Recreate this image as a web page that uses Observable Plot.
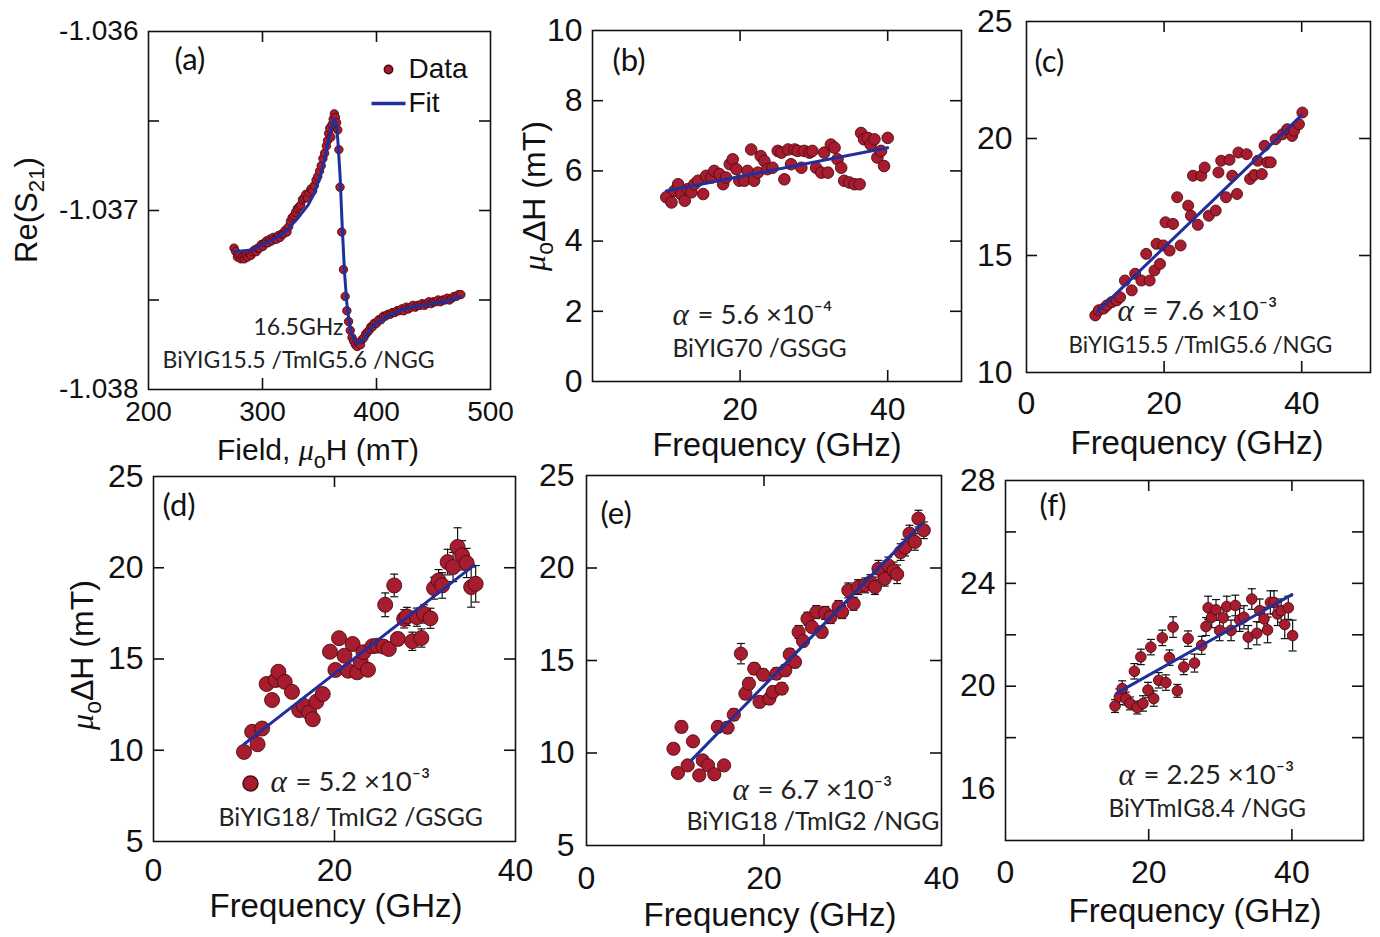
<!DOCTYPE html>
<html><head><meta charset="utf-8">
<script src="https://cdn.jsdelivr.net/npm/d3@7"></script>
<script src="https://cdn.jsdelivr.net/npm/@observablehq/plot@0.6"></script>
<style>
body{margin:0;background:#fff;}
#fig{position:relative;width:1380px;height:937px;overflow:hidden;background:#fff;}
.lab{position:absolute;white-space:nowrap;line-height:1;color:#111;font-family:"Liberation Sans",Arial,sans-serif;}
.lab sub{font-size:0.72em;vertical-align:-0.35em;line-height:0;}
.lab i{font-family:"Liberation Serif",serif;}
</style></head><body><div id="fig"></div><script>
// ---------- data ----------
// (a) Re(S21) vs field at 16.5 GHz
const aField = [275,276.5,278,279.5,281,282.5,284,285.5,287,288.5,290,291.5,293,294.5,296,297.5,299,300.5,302,303.5,305,306.5,308,309.5,311,312.5,314,315.5,317,318.5,320,321.5,323,324.5,326,327.5,329,330.5,332,333.5,335,336.5,338,339.5,341,342.5,344,345.5,347,348.5,350,351.5,353,354.5,356,357,358,359,360,361,362,363,364,365,366,367,368,369.5,371,372.5,374,375.5,377,378.5,380,381.5,383,384.5,386,387.5,389,390.5,392,393.5,395,396.5,398,400,402,404,406,408,410,412,414,416,418,420,422,424,426,428,430,432,434,436,438,440,442,444,446,448,450,452,454,456,458,460,462,464,466,468,470,472,474];
const aS21 = [-1.03721,-1.03723,-1.03726,-1.03725,-1.03727,-1.03726,-1.03727,-1.03725,-1.03726,-1.03724,-1.03725,-1.03723,-1.03722,-1.03723,-1.03721,-1.03721,-1.03719,-1.0372,-1.03718,-1.03717,-1.03718,-1.03716,-1.03717,-1.03715,-1.03716,-1.03716,-1.03714,-1.03715,-1.03713,-1.03713,-1.03711,-1.03712,-1.03709,-1.03706,-1.03704,-1.03703,-1.03701,-1.03699,-1.03698,-1.03697,-1.03694,-1.03693,-1.03691,-1.03693,-1.0369,-1.03688,-1.03689,-1.03686,-1.03683,-1.03681,-1.03678,-1.03675,-1.03671,-1.03668,-1.03664,-1.03661,-1.03657,-1.03654,-1.03659,-1.03652,-1.03649,-1.03646,-1.03648,-1.03651,-1.03655,-1.03666,-1.03687,-1.03712,-1.03733,-1.03748,-1.03756,-1.03762,-1.03767,-1.03771,-1.03773,-1.03775,-1.03776,-1.03774,-1.03775,-1.03772,-1.03771,-1.03769,-1.03768,-1.03767,-1.03765,-1.03765,-1.03763,-1.03763,-1.03761,-1.03761,-1.03759,-1.03759,-1.03758,-1.03758,-1.03757,-1.03757,-1.03756,-1.03756,-1.03755,-1.03756,-1.03754,-1.03755,-1.03754,-1.03753,-1.03754,-1.03753,-1.03753,-1.03752,-1.03753,-1.03752,-1.03751,-1.03752,-1.03751,-1.03751,-1.0375,-1.03751,-1.0375,-1.0375,-1.03749,-1.0375,-1.03749,-1.03748,-1.03748,-1.03747,-1.03747];
const aFitField = [275,290,300,310,320,330,340,345,350,355,358,361,363,364.5,366,368,370,372,374,376,378,380,383,386,390,395,400,410,420,430,440,450,460,474];
const aFitS21 = [-1.03723,-1.03722,-1.03719,-1.03716,-1.03712,-1.03705,-1.03697,-1.03691,-1.03682,-1.0367,-1.0366,-1.03652,-1.03649,-1.03651,-1.0366,-1.0368,-1.0371,-1.03735,-1.03752,-1.03762,-1.03768,-1.03772,-1.03774,-1.03774,-1.03771,-1.03766,-1.03763,-1.03759,-1.03756,-1.03754,-1.03753,-1.03752,-1.03751,-1.03748];

// (b) BiYIG70 / GSGG
const bFreq = [10.0,10.7,11.1,11.6,12.0,12.5,12.9,13.4,13.8,14.3,15.0,15.4,16.1,16.5,17.2,17.7,18.1,18.6,19.0,19.5,19.9,20.6,21.0,21.5,21.9,22.4,22.8,23.3,23.7,24.4,25.1,25.6,26.0,26.5,26.9,27.4,27.8,28.3,28.7,29.4,29.8,30.3,31.0,31.4,31.9,32.3,32.8,33.2,33.7,34.1,34.8,35.5,36.2,36.4,36.8,37.3,37.7,38.2,38.6,39.1,39.5,40.0];
const bWidth = [5.25,5.10,5.43,5.62,5.34,5.15,5.48,5.39,5.62,5.72,5.34,5.86,5.81,6.00,5.91,5.62,5.81,6.19,6.33,6.05,5.72,5.72,6.00,6.61,5.72,5.95,6.42,6.28,6.05,6.09,6.57,6.52,5.76,6.61,6.19,6.61,6.57,6.09,6.57,6.52,6.57,6.09,5.95,6.52,5.95,6.75,6.66,6.33,6.09,5.72,5.67,5.62,5.62,7.08,6.90,6.94,6.75,6.90,6.38,6.57,6.14,6.94];
const bFitFreq = [10, 40];
const bFitWidth = [5.43, 6.66];

// (c) BiYIG15.5 / TmIG5.6 / NGG
const cFreq = [10.0,10.5,11.2,11.7,12.4,13.1,13.6,14.3,15.3,15.8,16.7,17.4,17.9,18.6,19.4,18.9,19.9,20.8,22.4,20.2,21.3,21.9,23.5,23.9,24.9,26.5,27.5,24.2,25.4,25.9,27.9,28.3,29.5,29.0,29.9,30.6,30.8,32.0,32.5,33.1,33.6,34.2,34.6,35.0,35.5,36.2,37.2,37.9,38.6,38.9,39.6,40.1];
const cWidth = [12.44,12.66,12.73,12.87,13.01,13.08,13.22,13.93,13.51,14.22,13.93,15.07,13.93,14.36,14.64,15.50,15.43,15.21,15.43,16.42,16.35,17.49,17.13,16.70,16.31,16.70,16.92,18.41,18.41,18.76,18.55,19.05,19.09,17.49,18.41,17.63,19.40,19.33,18.27,18.44,19.05,18.48,19.69,18.98,18.98,19.97,20.18,20.40,20.11,20.33,20.61,21.11];
const cFitFreq = [10.3, 40];
const cFitWidth = [12.6, 21.0];

// (d) BiYIG18 / TmIG2 / GSGG
const dFreq = [10.0,10.9,11.5,12.0,12.5,13.1,13.5,13.8,14.5,15.3,16.1,16.6,17.2,17.6,18.0,18.7,19.5,20.1,20.5,21.1,21.5,22.0,22.5,22.9,23.2,23.7,24.2,24.7,25.4,25.6,26.0,26.6,27.0,27.7,28.0,28.6,29.1,29.6,29.9,30.6,31.0,31.5,31.9,32.5,33.1,33.6,34.1,34.6,35.1,35.6];
const dWidth = [9.91,11.01,10.33,11.19,13.63,12.75,13.85,14.30,13.75,13.20,12.20,12.44,12.07,11.70,12.66,13.08,15.40,14.40,16.14,15.18,14.36,15.82,14.27,14.82,15.37,14.41,15.70,15.73,15.68,17.97,15.55,19.03,16.10,17.20,17.33,15.97,17.29,16.15,17.47,17.23,18.88,19.30,19.03,20.31,20.04,21.14,20.68,20.26,18.94,19.12];
const dErr = [0.2,0.25,0.2,0.25,0.2,0.2,0.2,0.2,0.2,0.2,0.2,0.2,0.2,0.2,0.2,0.25,0.3,0.25,0.3,0.3,0.25,0.3,0.25,0.3,0.3,0.3,0.3,0.3,0.3,0.65,0.3,0.62,0.35,0.5,0.5,0.5,0.5,0.5,0.5,0.55,0.6,0.6,0.7,0.7,0.8,1.05,0.8,0.8,1.1,1.0];
const dFitFreq = [10, 35.4];
const dFitWidth = [10.33, 20.13];

// (e) BiYIG18 / TmIG2 / NGG
const eFreq = [9.8,10.3,10.7,11.4,12.0,12.7,13.1,13.7,14.4,14.8,15.5,15.9,16.6,17.4,17.9,18.3,18.9,19.5,19.9,20.6,21.0,21.4,22.0,22.4,22.9,23.5,23.9,24.4,24.9,25.4,25.9,26.5,26.9,27.5,28.4,28.8,29.5,30.1,30.6,31.4,32.0,32.5,32.9,33.6,34.0,34.6,35.0,35.4,35.9,36.4,37.0,37.4,38.0];
const eWidth = [10.23,8.92,11.41,9.33,10.63,8.79,9.60,9.33,8.85,11.41,9.33,11.37,12.07,15.37,13.21,13.75,14.56,12.76,14.23,12.94,13.30,14.29,13.48,14.47,15.33,14.92,16.54,16.05,17.26,16.81,17.62,16.54,17.57,17.35,17.89,17.62,18.79,18.07,18.97,19.06,19.24,18.97,19.96,19.42,20.14,19.87,19.66,20.86,21.10,21.86,21.41,22.67,22.04];
const eErr = [0.25,0.25,0.3,0.25,0.25,0.25,0.25,0.25,0.25,0.3,0.25,0.3,0.3,0.55,0.3,0.3,0.3,0.3,0.3,0.3,0.3,0.3,0.3,0.3,0.3,0.3,0.35,0.3,0.35,0.3,0.35,0.3,0.35,0.35,0.35,0.35,0.4,0.35,0.4,0.4,0.4,0.4,0.45,0.4,0.45,0.45,0.5,0.45,0.45,0.45,0.45,0.45,0.45];
const eFitFreq = [11.8, 37.8];
const eFitWidth = [9.6, 22.4];

// (f) BiYTmIG8.4 / NGG
const fFreq = [15.3,15.9,16.3,16.8,17.4,18.0,18.4,18.9,19.2,19.9,20.3,20.7,21.4,21.9,22.4,22.9,23.4,24.0,24.9,25.5,26.4,27.4,28.0,28.3,28.8,29.4,29.9,30.4,30.9,31.5,32.1,32.7,33.3,33.9,34.4,35.1,35.5,36.1,36.6,37.0,37.5,38.0,38.5,39.0,39.5,40.1];
const fWidth = [19.23,19.59,19.91,19.52,19.33,20.58,19.17,21.14,19.33,19.85,21.52,19.52,20.23,21.88,20.14,21.11,22.30,19.82,20.75,21.85,20.90,21.59,22.32,23.05,22.68,22.97,22.17,22.66,23.10,22.17,23.14,22.58,22.68,21.91,23.39,22.06,22.94,22.62,22.19,23.26,23.26,22.81,22.94,22.40,23.05,21.97];
const fErr = [0.25,0.3,0.3,0.25,0.25,0.3,0.25,0.3,0.3,0.3,0.3,0.3,0.3,0.3,0.3,0.3,0.4,0.25,0.3,0.3,0.35,0.35,0.35,0.45,0.4,0.4,0.4,0.4,0.4,0.4,0.4,0.45,0.45,0.45,0.4,0.45,0.45,0.45,0.5,0.45,0.45,0.45,0.45,0.55,0.45,0.6];
const fFitFreq = [15.6, 40];
const fFitWidth = [19.74, 23.56];

// tick values / labels
const aXLabels = [200,300,400,500], aYLabels = [-1.036,-1.037,-1.038];
const aXTicks = [300,400], aYTicks = [-1.0365,-1.037,-1.0375];

// ---------- styling ----------
const fig = document.getElementById("fig");
const M = {l: 140, r: 40, t: 40, b: 70};
const DOT_FILL = "#a81c2f", DOT_STROKE = "#4e0a12", FIT = "#1f2f9c";
const SANS = "Liberation Sans, Arial, sans-serif";
const NOTE = "Lato, 'Open Sans', sans-serif";
const hline = {draw(ctx, size) { const w = Math.sqrt(size / Math.PI); ctx.moveTo(-w, 0); ctx.lineTo(w, 0); }};
const rows = (xs, ys, es) => xs.map((x, i) => ({x, y: ys[i], e: es ? es[i] : 0}));

function panel(cfg) {
  const W = cfg.R - cfg.L, H = cfg.B - cfg.T, tk = 11;
  const at = (x, y) => ({frameAnchor: "top-left", dx: x - cfg.L, dy: y - cfg.T});
  const marks = [
    Plot.frame({stroke: "#111", strokeWidth: 1.6}),
    Plot.axisX(cfg.xLabels, {tickSize: 0, tickPadding: cfg.padX, label: null, fontSize: cfg.fs, tickFormat: cfg.xFmt || (d => String(d)), fill: "#111"}),
    Plot.axisY(cfg.yLabels, {tickSize: 0, tickPadding: cfg.padY, label: null, fontSize: cfg.fs, tickFormat: cfg.yFmt || (d => String(d)), fill: "#111"}),
    Plot.tickX(cfg.xTicks, {x: d => d, insetTop: H - tk, stroke: "#111", strokeWidth: 1.6}),
    Plot.tickX(cfg.xTicks, {x: d => d, insetBottom: H - tk, stroke: "#111", strokeWidth: 1.6}),
    Plot.tickY(cfg.yTicks, {y: d => d, insetRight: W - tk, stroke: "#111", strokeWidth: 1.6}),
    Plot.tickY(cfg.yTicks, {y: d => d, insetLeft: W - tk, stroke: "#111", strokeWidth: 1.6})
  ];
  if (cfg.err) {
    marks.push(
      Plot.ruleX(cfg.data, {x: "x", y1: d => d.y - d.e, y2: d => d.y + d.e, stroke: "#111", strokeWidth: 1.2}),
      Plot.dot(cfg.data, {x: "x", y: d => d.y + d.e, symbol: hline, r: cfg.cap, fill: "none", stroke: "#111", strokeWidth: 1.2}),
      Plot.dot(cfg.data, {x: "x", y: d => d.y - d.e, symbol: hline, r: cfg.cap, fill: "none", stroke: "#111", strokeWidth: 1.2})
    );
  }
  marks.push(
    Plot.dot(cfg.data, {x: "x", y: "y", r: cfg.r, fill: DOT_FILL, stroke: DOT_STROKE, strokeWidth: 0.9}),
    Plot.line(cfg.fit, {x: "x", y: "y", stroke: FIT, strokeWidth: 3, curve: "linear"}),
    Plot.text([cfg.tag], {text: d => d, ...at(cfg.tagPos[0], cfg.tagPos[1]), textAnchor: "start", lineAnchor: "middle", fontFamily: NOTE, fontSize: 31, fill: "#111"})
  );
  if (cfg.alpha) {
    const [ax, ay, rest] = cfg.alpha;
    marks.push(
      Plot.text(["α"], {text: d => d, ...at(ax, ay), textAnchor: "start", lineAnchor: "middle", fontFamily: "Liberation Serif, serif", fontStyle: "italic", fontSize: 31, fill: "#222"}),
      Plot.text([rest], {text: d => d, ...at(ax + 25, ay), textAnchor: "start", lineAnchor: "middle", fontFamily: NOTE, fontSize: 27.5, fill: "#222"})
    );
  }
  for (const n of cfg.notes || []) {
    marks.push(Plot.text([n[0]], {text: d => d, ...at(n[1], n[2]), textAnchor: "start", lineAnchor: "middle", fontFamily: n[4] || NOTE, fontSize: n[3], fill: "#222"}));
  }
  if (cfg.extra) marks.push(...cfg.extra(at));
  const svg = Plot.plot({
    width: W + M.l + M.r, height: H + M.t + M.b,
    marginLeft: M.l, marginRight: M.r, marginTop: M.t, marginBottom: M.b,
    x: {domain: cfg.xDomain, label: null},
    y: {domain: cfg.yDomain, label: null},
    style: {background: "transparent", overflow: "visible", fontFamily: SANS, fontSize: cfg.fs + "px", color: "#111"},
    marks
  });
  svg.style.position = "absolute";
  svg.style.left = (cfg.L - M.l) + "px";
  svg.style.top = (cfg.T - M.t) + "px";
  fig.appendChild(svg);
}

function label(html, x, y, size, rot) {
  const d = document.createElement("div");
  d.className = "lab";
  d.innerHTML = html;
  d.style.left = x + "px"; d.style.top = y + "px"; d.style.fontSize = size + "px";
  d.style.transform = "translate(-50%,-50%)" + (rot ? " rotate(-90deg)" : "");
  fig.appendChild(d);
}

// (a)
panel({
  L: 148, T: 31, R: 490, B: 389, xDomain: [200, 500], yDomain: [-1.038, -1.036],
  xLabels: aXLabels, yLabels: aYLabels, xTicks: aXTicks, yTicks: aYTicks,
  yFmt: d => d.toFixed(3), fs: 28, padX: 12, padY: 10,
  data: rows(aField, aS21), fit: rows(aFitField, aFitS21), r: 4.2,
  tag: "(a)", tagPos: [174, 60],
  notes: [["16.5GHz", 253, 327, 23], ["BiYIG15.5 /TmIG5.6 /NGG", 162, 360, 23]],
  extra: at => [
    Plot.dot([0], {...at(388, 69), r: 4.2, fill: DOT_FILL, stroke: DOT_STROKE}),
    Plot.text(["Data"], {text: d => d, ...at(408, 69), textAnchor: "start", lineAnchor: "middle", fontFamily: SANS, fontSize: 28, fill: "#111"}),
    Plot.dot([0], {...at(388, 103), symbol: hline, r: 17, fill: "none", stroke: FIT, strokeWidth: 3.5}),
    Plot.text(["Fit"], {text: d => d, ...at(408, 103), textAnchor: "start", lineAnchor: "middle", fontFamily: SANS, fontSize: 28, fill: "#111"})
  ]
});
// (b)
panel({
  L: 592, T: 30, R: 961, B: 381, xDomain: [0, 50], yDomain: [0, 10],
  xLabels: [20, 40], yLabels: [0, 2, 4, 6, 8, 10], xTicks: [20, 40], yTicks: [2, 4, 6, 8],
  fs: 32, padX: 16, padY: 10,
  data: rows(bFreq, bWidth), fit: rows(bFitFreq, bFitWidth), r: 5.8,
  tag: "(b)", tagPos: [612, 61],
  alpha: [672, 315, "= 5.6 ×10⁻⁴"],
  notes: [["BiYIG70 /GSGG", 672, 349, 24.5]]
});
// (c)
panel({
  L: 1026, T: 21, R: 1370, B: 372, xDomain: [0, 50], yDomain: [10, 25],
  xLabels: [0, 20, 40], yLabels: [10, 15, 20, 25], xTicks: [20, 40], yTicks: [15, 20],
  fs: 32, padX: 19, padY: 14,
  data: rows(cFreq, cWidth), fit: rows(cFitFreq, cFitWidth), r: 5.5,
  tag: "(c)", tagPos: [1034, 62],
  alpha: [1117, 311, "= 7.6 ×10⁻³"],
  notes: [["BiYIG15.5 /TmIG5.6 /NGG", 1068, 345, 22.3]]
});
// (d)
panel({
  L: 153, T: 476, R: 515, B: 841, xDomain: [0, 40], yDomain: [5, 25],
  xLabels: [0, 20, 40], yLabels: [5, 10, 15, 20, 25], xTicks: [20], yTicks: [10, 15, 20],
  fs: 32, padX: 17, padY: 10,
  data: rows(dFreq, dWidth, dErr), err: true, cap: 4, fit: rows(dFitFreq, dFitWidth), r: 7.5,
  tag: "(d)", tagPos: [162, 506],
  alpha: [270, 782, "= 5.2 ×10⁻³"],
  notes: [["BiYIG18/ TmIG2 /GSGG", 218, 818, 24.8]],
  extra: at => [Plot.dot([0], {...at(250, 783), r: 7.5, fill: DOT_FILL, stroke: DOT_STROKE})]
});
// (e)
panel({
  L: 586, T: 475, R: 941, B: 845, xDomain: [0, 40], yDomain: [5, 25],
  xLabels: [0, 20, 40], yLabels: [5, 10, 15, 20, 25], xTicks: [20], yTicks: [10, 15, 20],
  fs: 32, padX: 21, padY: 12,
  data: rows(eFreq, eWidth, eErr), err: true, cap: 4, fit: rows(eFitFreq, eFitWidth), r: 6.6,
  tag: "(e)", tagPos: [600, 514],
  alpha: [732, 790, "= 6.7 ×10⁻³"],
  notes: [["BiYIG18 /TmIG2 /NGG", 686, 822, 24.8]]
});
// (f)
panel({
  L: 1005, T: 480, R: 1363, B: 840, xDomain: [0, 50], yDomain: [14, 28],
  xLabels: [0, 20, 40], yLabels: [16, 20, 24, 28], xTicks: [20, 40], yTicks: [18, 20, 22, 24, 26],
  fs: 32, padX: 20, padY: 10,
  data: rows(fFreq, fWidth, fErr), err: true, cap: 4, fit: rows(fFitFreq, fFitWidth), r: 5.3,
  tag: "(f)", tagPos: [1039, 506],
  alpha: [1118, 775, "= 2.25 ×10⁻³"],
  notes: [["BiYTmIG8.4 /NGG", 1108, 809, 24.3]]
});

// axis titles
label("Re(S<sub>21</sub>)", 26, 210, 31, true);
label("Field, <i>μ</i><sub>o</sub>H (mT)", 318, 450, 30, false);
label("<i>μ</i><sub>o</sub>ΔH (mT)", 534, 196, 32, true);
label("Frequency (GHz)", 777, 445, 32.5, false);
label("Frequency (GHz)", 1197, 442, 33, false);
label("<i>μ</i><sub>o</sub>ΔH (mT)", 82, 655, 32, true);
label("Frequency (GHz)", 336, 905, 33, false);
label("Frequency (GHz)", 770, 914, 33, false);
label("Frequency (GHz)", 1195, 910, 33, false);
</script></body></html>
